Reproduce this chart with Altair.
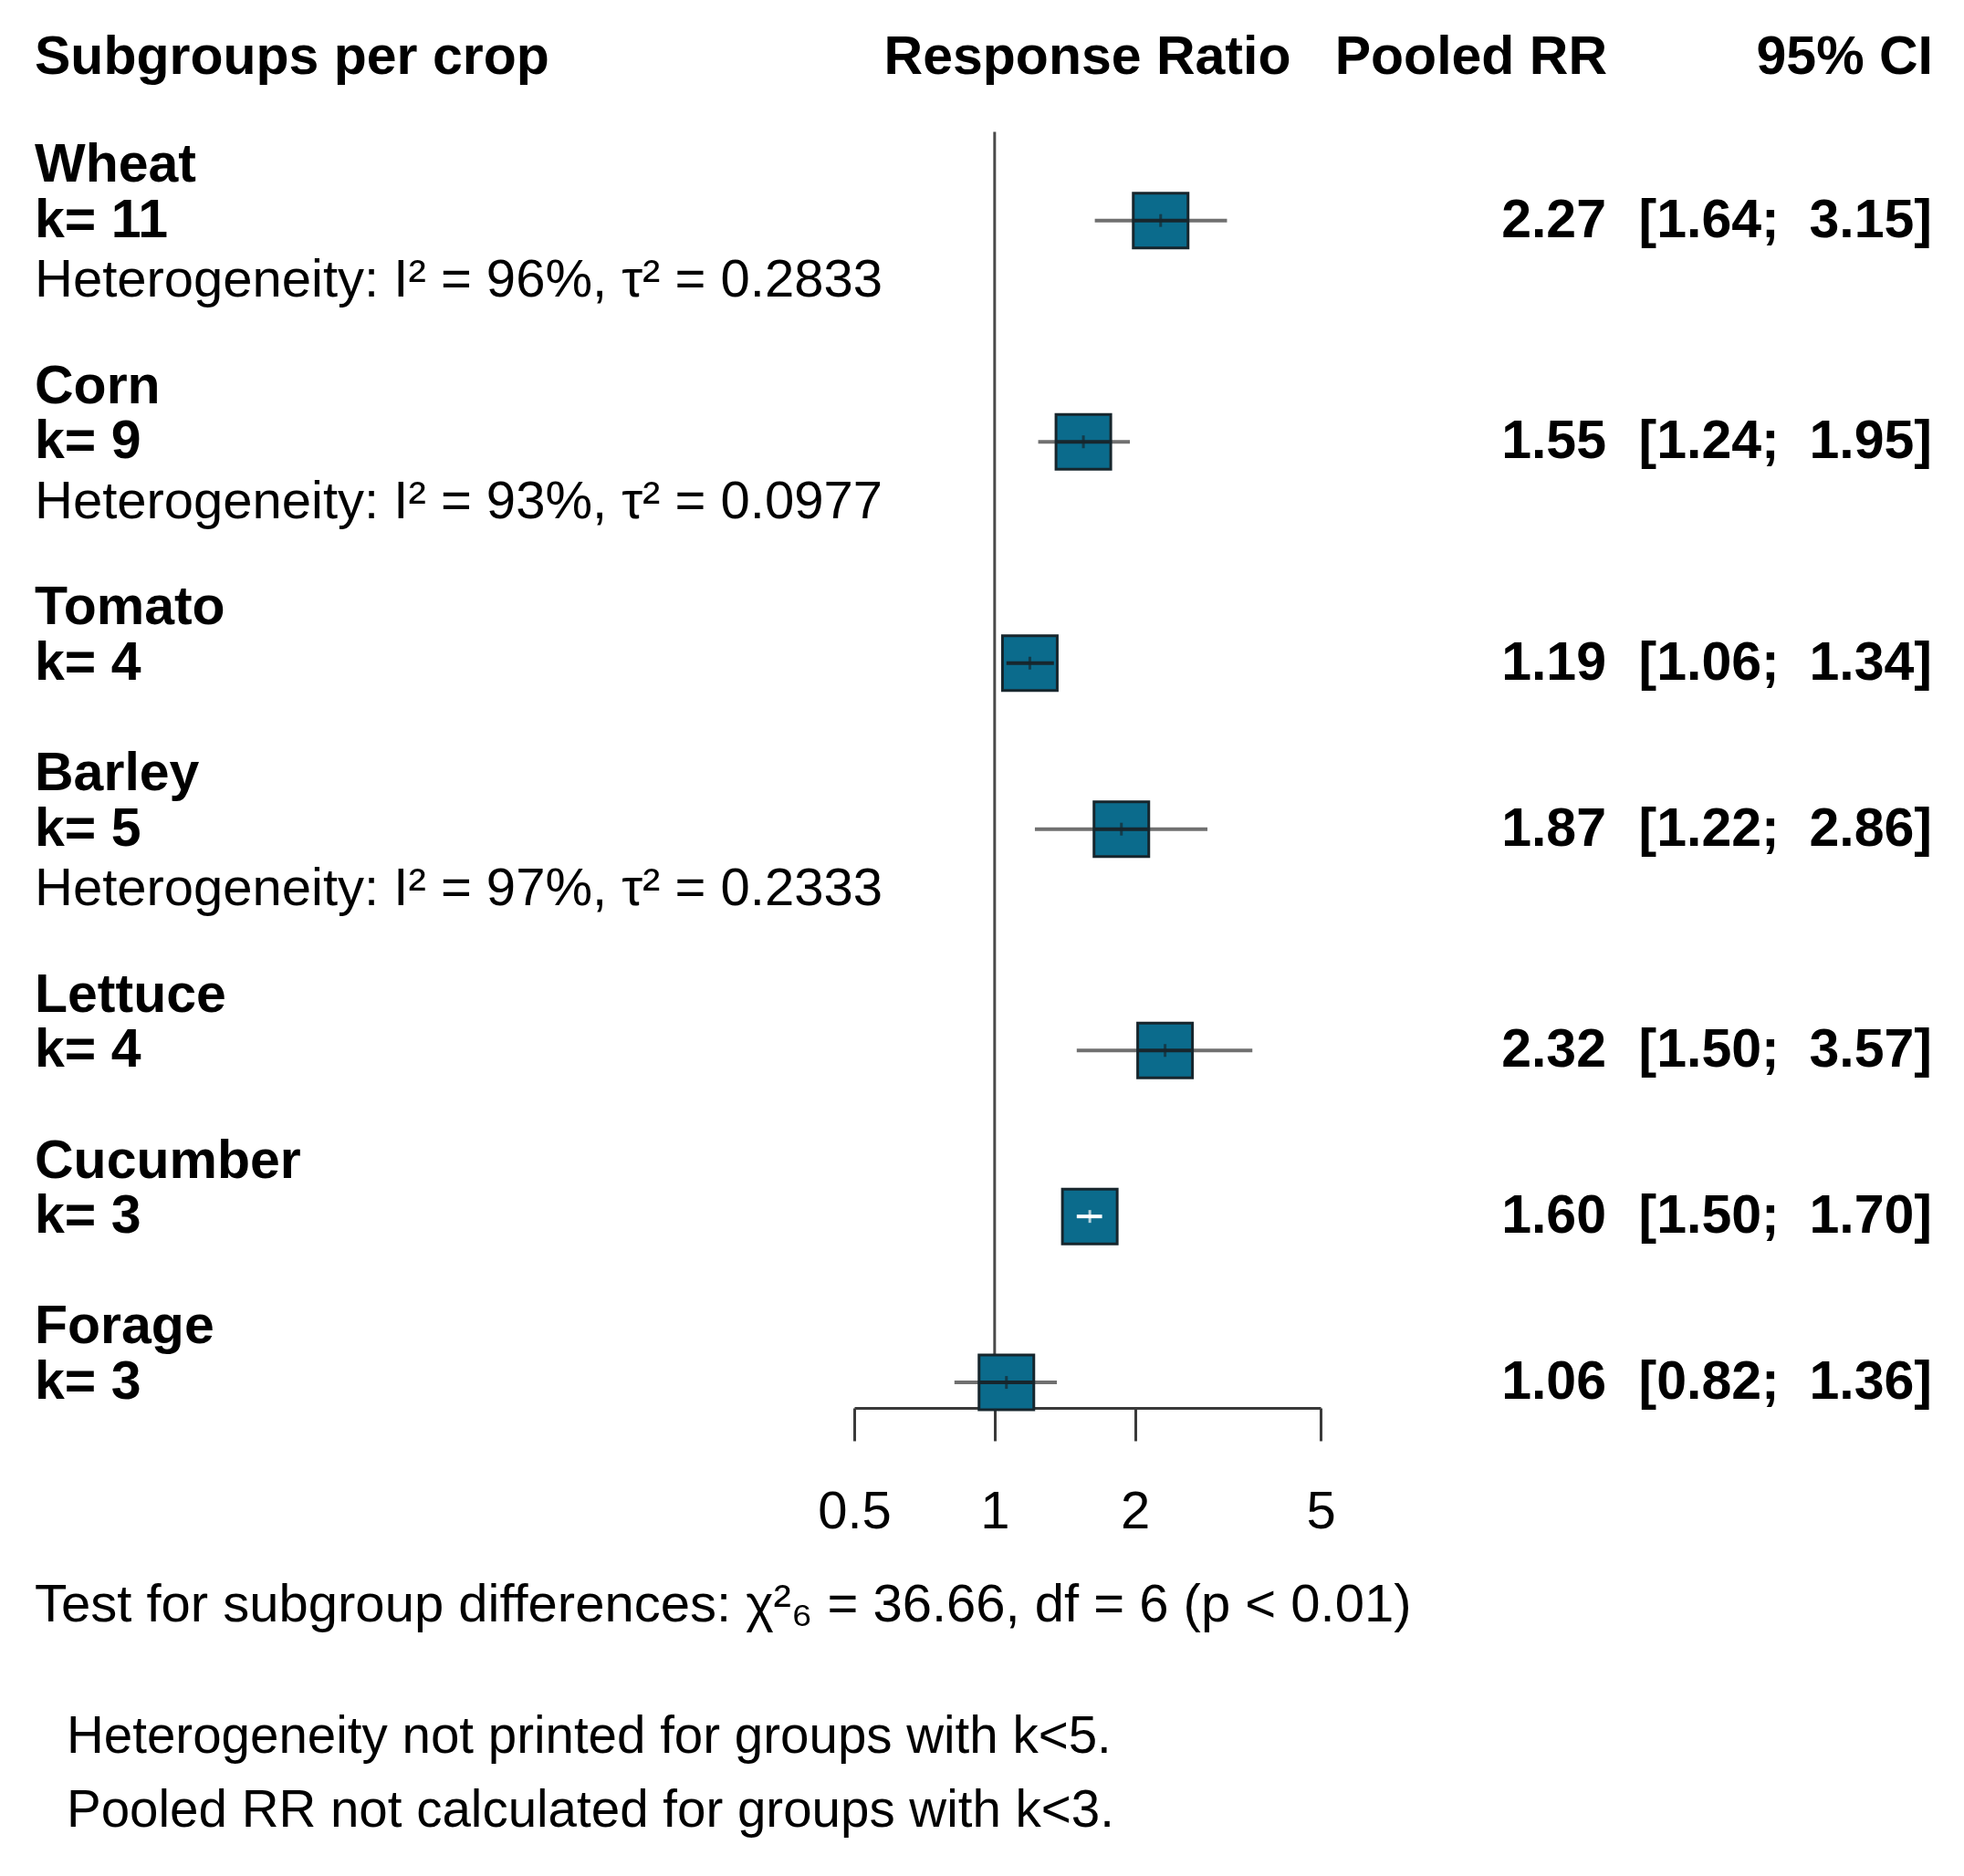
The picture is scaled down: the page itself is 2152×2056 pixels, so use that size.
import altair as alt
import pandas as pd

# ---------------- data ----------------
crops = ["Wheat", "Corn", "Tomato", "Barley", "Lettuce", "Cucumber", "Forage"]
k_values = [11, 9, 4, 5, 4, 3, 3]
pooled_rr = [2.27, 1.55, 1.19, 1.87, 2.32, 1.60, 1.06]
ci_lower = [1.64, 1.24, 1.06, 1.22, 1.50, 1.50, 0.82]
ci_upper = [3.15, 1.95, 1.34, 2.86, 3.57, 1.70, 1.36]
i2_values = ["96%", "93%", None, "97%", None, None, None]
tau2_values = ["0.2833", "0.0977", None, "0.2333", None, None, None]
tick_values = [0.5, 1, 2, 5]

header_left = "Subgroups per crop"
header_axis = "Response Ratio"
header_rr = "Pooled RR"
header_ci = "95% CI"
test_text = "Test for subgroup differences: \u03c7\u00b2\u2086 = 36.66, df = 6 (p < 0.01)"
notes = ["Heterogeneity not printed for groups with k<5.",
         "Pooled RR not calculated for groups with k<3."]

# ---------------- layout ----------------
FONT = "Liberation Sans"
FS_B = 59
FS_R = 58
FS_NOTE = 56.5
WIDTH = 2136
HEIGHT = 1535
LINE_PX = 60.64
FIRST_LINE_PX = 173
Y_TOP = -FIRST_LINE_PX / LINE_PX
Y_BOT = (HEIGHT - FIRST_LINE_PX) / LINE_PX
HEADER_LINE = -1.95
REF_TOP = -0.6
TEST_LINE = 26.04
NOTE_LINES = [28.42, 29.75]
HET_SHIFT = 0.1
SQ_FACTOR = 1.145  # half square width expressed as ratio on log axis

LEFT_X = 30
NOTE_X = 65
RR_X = 1752
CI_X = 2109

SQ_FILL = "#0b6b8c"
SQ_STROKE = "#17262d"
CI_COLOR = "#707070"
REF_COLOR = "#4a4a4a"
AX_COLOR = "#3a3a3a"

# build row structure (line indices)
rows, labels_b, labels_r = [], [], []
line = 0
for i, c in enumerate(crops):
    labels_b.append({"y": line, "text": c})
    labels_b.append({"y": line + 1, "text": f"k= {k_values[i]}"})
    rows.append({"crop": c, "y": line + 1, "rr": pooled_rr[i], "lo": ci_lower[i],
                 "hi": ci_upper[i], "rr_txt": f"{pooled_rr[i]:.2f}",
                 "ci_txt": f"[{ci_lower[i]:.2f}; \u00a0{ci_upper[i]:.2f}]"})
    if i2_values[i] is not None:
        labels_r.append({"y": line + 2 + HET_SHIFT,
                         "text": f"Heterogeneity: I\u00b2 = {i2_values[i]}, \u03c4\u00b2 = {tau2_values[i]}"})
        line += 4
    else:
        line += 3

df = pd.DataFrame(rows)
df_lb = pd.DataFrame(labels_b)
df_lr = pd.DataFrame(labels_r)

yscale = alt.Scale(domain=[Y_TOP, Y_BOT], reverse=True, nice=False, zero=False)
xscale = alt.Scale(type="log", domain=[0.5, 5], range=[928, 1439], nice=False)
xaxis = alt.Axis(values=tick_values, format="~g", title=None, grid=False,
                 domainColor=AX_COLOR, domainWidth=3, tickColor=AX_COLOR,
                 tickWidth=3, tickSize=36, labelFontSize=FS_R, labelFont=FONT,
                 labelColor="black", labelPadding=49, labelFlush=False,
                 labelOverlap=False)


def X(field):
    return alt.X(field, type="quantitative", scale=xscale, axis=xaxis)


def Y(field="y"):
    return alt.Y(field, type="quantitative", scale=yscale, axis=None)


base = alt.Chart(df)

ref = alt.Chart(pd.DataFrame({"x": [1.0], "y": [REF_TOP]})).mark_rule(
    color=REF_COLOR, strokeWidth=3).encode(x=X("x"), y=Y(), y2=alt.datum(Y_BOT))

ci = base.mark_rule(color=CI_COLOR, strokeWidth=4).encode(
    x=X("lo"), x2="hi", y=Y())

sq = base.mark_square(size=60 * 60, fill=SQ_FILL, fillOpacity=1, stroke=SQ_STROKE,
                      strokeWidth=3, opacity=1).encode(x=X("rr"), y=Y())

inner_color = alt.condition(alt.datum.crop == "Cucumber", alt.value("white"),
                            alt.value(SQ_STROKE))
inner = base.transform_calculate(
    ilo=f"max(datum.lo, datum.rr / {SQ_FACTOR})",
    ihi=f"min(datum.hi, datum.rr * {SQ_FACTOR})",
).mark_rule(strokeWidth=4).encode(x=X("ilo:Q"), x2="ihi:Q", y=Y(), color=inner_color)

est_tick = base.mark_tick(orient="vertical", size=14, thickness=3).encode(
    x=X("rr"), y=Y(), color=inner_color)

lab_b = alt.Chart(df_lb).mark_text(align="left", baseline="middle", font=FONT,
                                   fontSize=FS_B, fontWeight="bold", color="black").encode(
    x=alt.value(LEFT_X), y=Y(), text="text:N")
lab_r = alt.Chart(df_lr).mark_text(align="left", baseline="middle", font=FONT,
                                   fontSize=FS_R, color="black").encode(
    x=alt.value(LEFT_X), y=Y(), text="text:N")

rr_txt = base.mark_text(align="right", baseline="middle", font=FONT, fontSize=FS_B,
                        fontWeight="bold", color="black").encode(
    x=alt.value(RR_X), y=Y(), text="rr_txt:N")
ci_txt = base.mark_text(align="right", baseline="middle", font=FONT, fontSize=FS_B,
                        fontWeight="bold", color="black").encode(
    x=alt.value(CI_X), y=Y(), text="ci_txt:N")

hdr_df = pd.DataFrame({"y": [HEADER_LINE]})


def header(txt, align, xpos):
    return alt.Chart(hdr_df).mark_text(align=align, baseline="middle", font=FONT,
                                       fontSize=FS_B, fontWeight="bold", color="black",
                                       text=txt).encode(x=xpos, y=Y())


h1 = header(header_left, "left", alt.value(LEFT_X))
h2 = alt.Chart(pd.DataFrame({"y": [HEADER_LINE], "x": [(0.5 * 5) ** 0.5]})).mark_text(
    align="center", baseline="middle", font=FONT, fontSize=FS_B, fontWeight="bold",
    color="black", text=header_axis).encode(x=X("x"), y=Y())
h3 = header(header_rr, "right", alt.value(1753))
h4 = header(header_ci, "right", alt.value(CI_X + 1))

test = alt.Chart(pd.DataFrame({"y": [TEST_LINE]})).mark_text(
    align="left", baseline="middle", font=FONT, fontSize=FS_R, color="black",
    text=test_text).encode(x=alt.value(LEFT_X), y=Y())

notes_df = pd.DataFrame({"y": NOTE_LINES, "text": notes})
note_layer = alt.Chart(notes_df).mark_text(
    align="left", baseline="middle", font=FONT, fontSize=FS_NOTE, color="black").encode(
    x=alt.value(NOTE_X), y=Y(), text="text:N")

chart = alt.layer(ref, ci, sq, inner, est_tick, lab_b, lab_r, rr_txt, ci_txt,
                  h1, h2, h3, h4, test, note_layer).properties(
    width=WIDTH, height=HEIGHT, padding=0, background="white"
).configure_view(stroke=None)

chart.save("out.html", embed_options={"renderer": "svg", "actions": False})
